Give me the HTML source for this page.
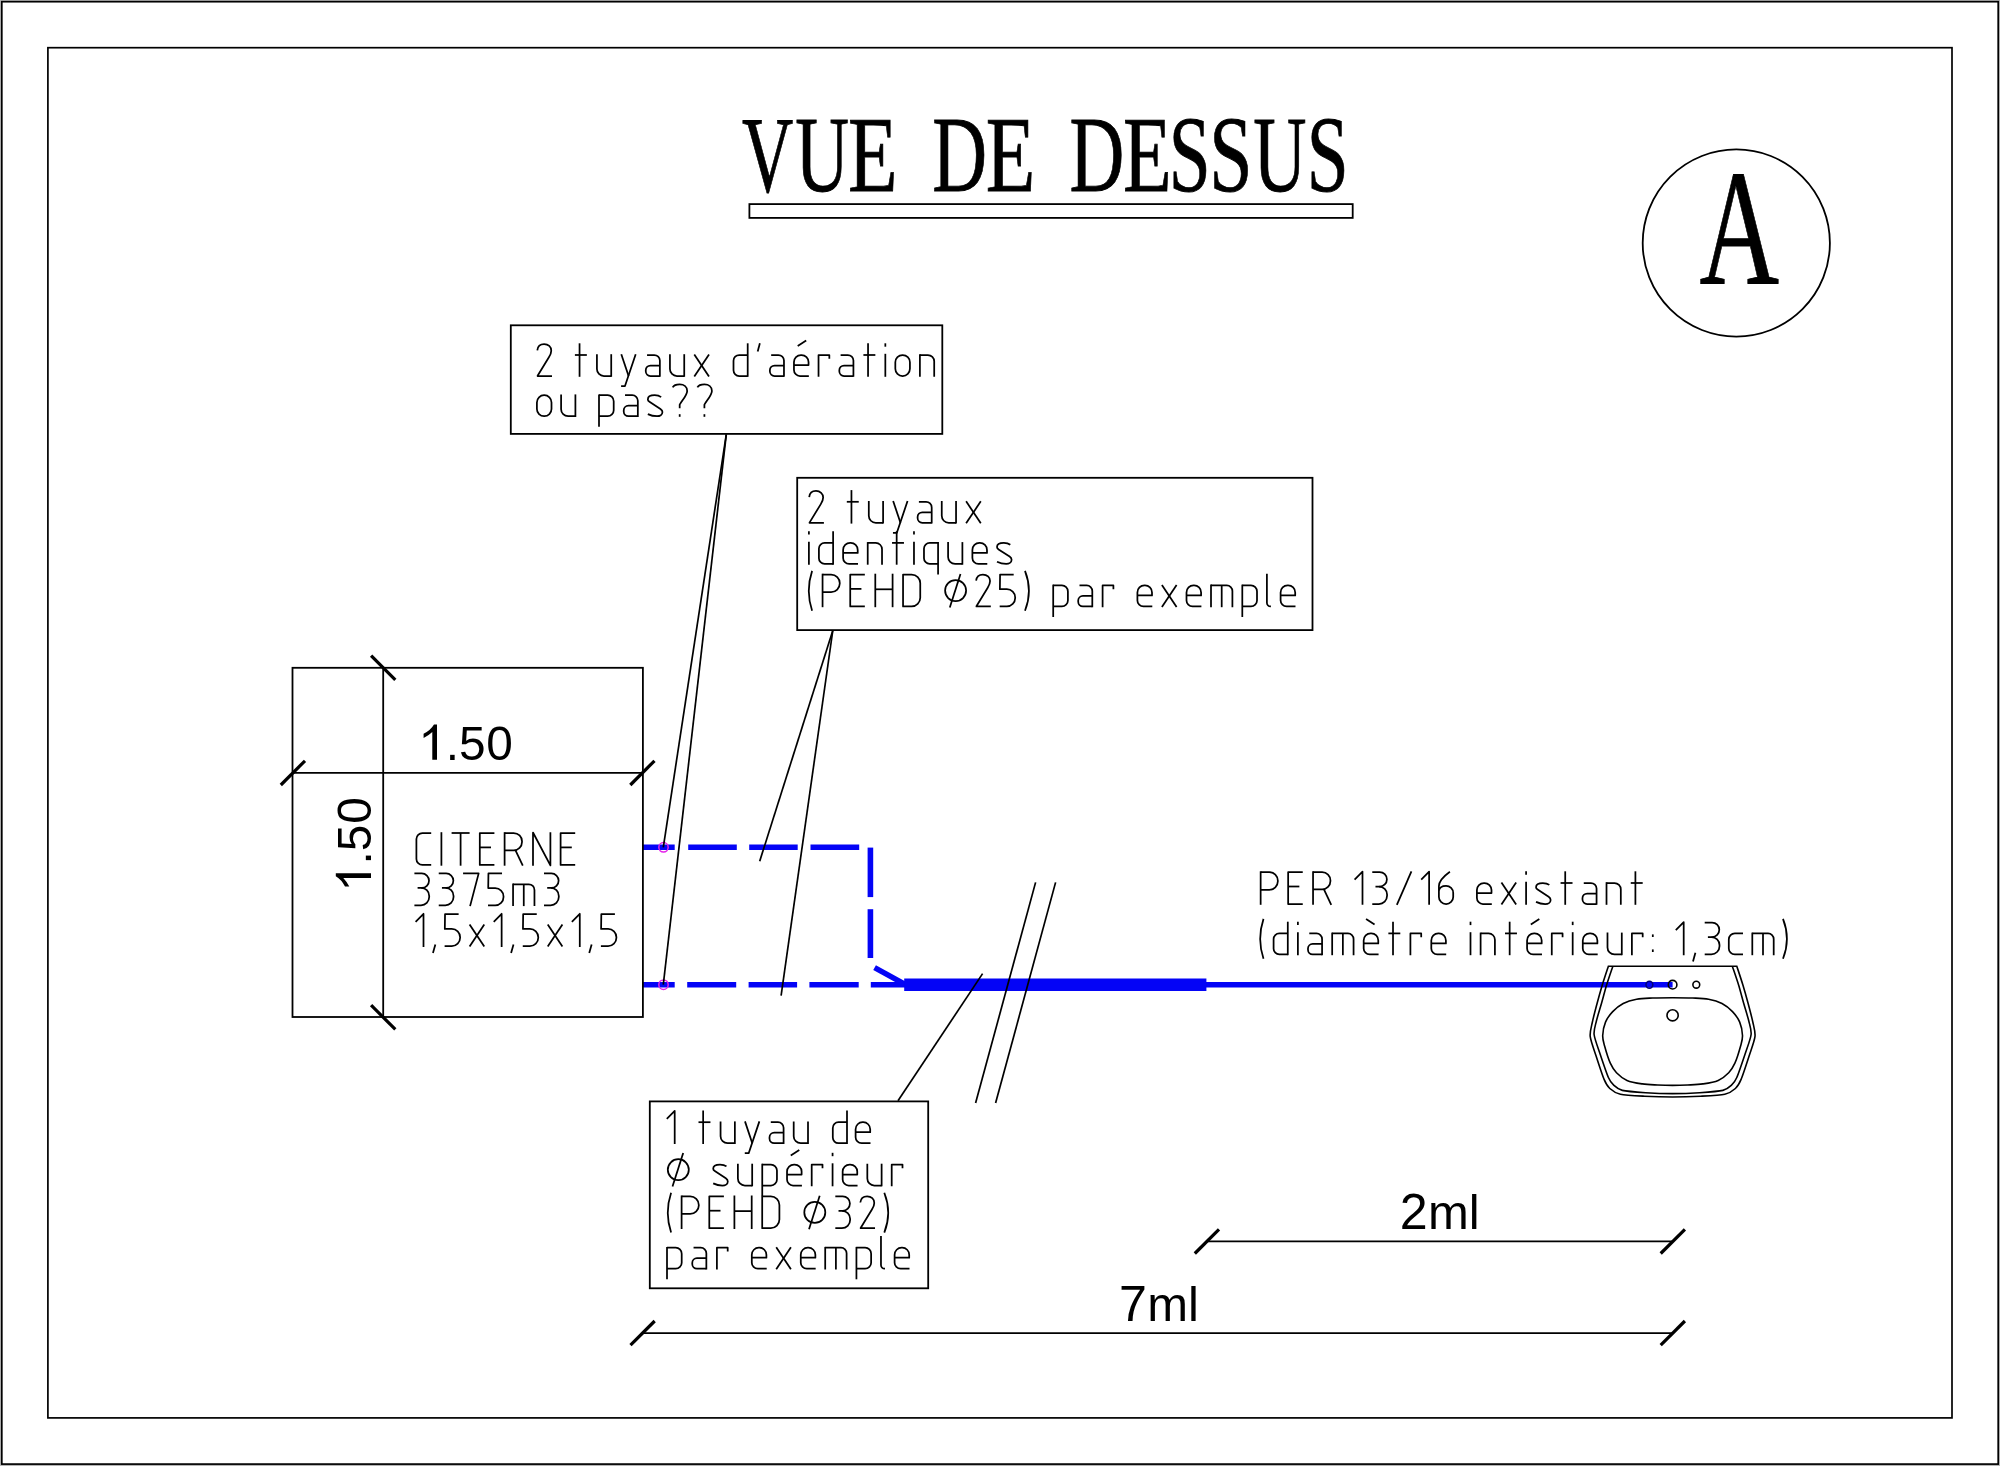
<!DOCTYPE html>
<html><head><meta charset="utf-8"><title>VUE DE DESSUS</title>
<style>
html,body{margin:0;padding:0;background:#fff;}
body{width:2000px;height:1466px;overflow:hidden;font-family:"Liberation Sans",sans-serif;}
svg{display:block;}
.thin{stroke:#000;stroke-width:1.8;fill:none;}
.ldr{stroke:#000;stroke-width:1.7;fill:none;}
.tick{stroke:#000;stroke-width:3.2;fill:none;}
.cad{stroke:#000;stroke-width:1.75;fill:none;stroke-linecap:butt;stroke-linejoin:round;}
.dim{font-family:"Liberation Sans",sans-serif;fill:#000;}
.ser{font-family:"Liberation Serif",serif;fill:#000;}
</style></head><body>
<svg width="2000" height="1466" viewBox="0 0 2000 1466">
<rect x="0" y="0" width="2000" height="1466" fill="#fff"/>

<rect x="0.5" y="0.5" width="1999" height="1465" fill="none" stroke="#b4b4b4" stroke-width="1"/>
<rect x="1.8" y="1.7" width="1996.4" height="1462.4" fill="none" stroke="#000" stroke-width="1.7"/>
<rect x="47.9" y="47.7" width="1904.1" height="1370.2" fill="none" stroke="#000" stroke-width="1.7"/>
<g class="ser">
<text transform="translate(742.10 191.3) scale(0.6547 1)" font-size="108.5" stroke="#000" stroke-width="0.8">V</text>
<text transform="translate(795.33 191.3) scale(0.6870 1)" font-size="108.5" stroke="#000" stroke-width="0.8">U</text>
<text transform="translate(848.06 191.3) scale(0.7481 1)" font-size="108.5" stroke="#000" stroke-width="0.8">E</text>
<text transform="translate(932.21 191.3) scale(0.6997 1)" font-size="108.5" stroke="#000" stroke-width="0.8">D</text>
<text transform="translate(985.66 191.3) scale(0.7481 1)" font-size="108.5" stroke="#000" stroke-width="0.8">E</text>
<text transform="translate(1069.41 191.3) scale(0.6997 1)" font-size="108.5" stroke="#000" stroke-width="0.8">D</text>
<text transform="translate(1122.90 191.3) scale(0.7342 1)" font-size="108.5" stroke="#000" stroke-width="0.8">E</text>
<text transform="translate(1168.86 191.3) scale(0.6946 1)" font-size="108.5" stroke="#000" stroke-width="0.8">S</text>
<text transform="translate(1209.20 191.3) scale(0.7162 1)" font-size="108.5" stroke="#000" stroke-width="0.8">S</text>
<text transform="translate(1253.35 191.3) scale(0.6802 1)" font-size="108.5" stroke="#000" stroke-width="0.8">U</text>
<text transform="translate(1306.86 191.3) scale(0.6946 1)" font-size="108.5" stroke="#000" stroke-width="0.8">S</text>
</g>
<rect x="749.4" y="204.1" width="603.3" height="13.8" fill="none" stroke="#000" stroke-width="1.8"/>
<circle cx="1736.3" cy="243" r="93.6" class="thin"/>
<g class="ser"><text transform="translate(1699.62 283.9) scale(0.6679 1)" font-size="165" stroke="#000" stroke-width="0.8">A</text></g>
<g stroke="#0404f6" fill="none" stroke-width="5.6">
<line x1="642.9" y1="847.3" x2="674.7" y2="847.3"/>
<line x1="688.2" y1="847.3" x2="736.8" y2="847.3"/>
<line x1="749.2" y1="847.3" x2="797.7" y2="847.3"/>
<line x1="810.5" y1="847.3" x2="859.2" y2="847.3"/>
<line x1="642.9" y1="984.7" x2="674.7" y2="984.7"/>
<line x1="687.2" y1="984.7" x2="736.2" y2="984.7"/>
<line x1="748.6" y1="984.7" x2="797.1" y2="984.7"/>
<line x1="809.4" y1="984.7" x2="858.7" y2="984.7"/>
<line x1="870.8" y1="984.7" x2="906" y2="984.7"/>
<line x1="870.4" y1="847.6" x2="870.4" y2="897.1"/>
<line x1="870.4" y1="909.2" x2="870.4" y2="958"/>
<line x1="874.6" y1="967.6" x2="906" y2="984.9"/>
<line x1="1206" y1="984.7" x2="1672.6" y2="984.7" stroke-width="5.6"/>
<line x1="904.2" y1="984.7" x2="1206.4" y2="984.7" stroke-width="12.4"/>
</g>
<rect x="510.8" y="325.3" width="431.5" height="108.6" class="thin"/>
<rect x="797.2" y="477.8" width="515.3" height="152.3" class="thin"/>
<rect x="649.8" y="1101.4" width="278.4" height="186.9" class="thin"/>
<rect x="292.5" y="667.8" width="350.4" height="349.2" class="thin"/>
<line x1="383.2" y1="667.8" x2="383.2" y2="1017" class="thin"/>
<line x1="292.5" y1="772.9" x2="642.9" y2="772.9" class="thin"/>
<line x1="371.1" y1="655.7" x2="395.3" y2="679.9" class="tick"/>
<line x1="371.1" y1="1005.2" x2="395.3" y2="1029.4" class="tick"/>
<line x1="280.8" y1="785.0" x2="305.0" y2="760.8" class="tick"/>
<line x1="630.3" y1="785.0" x2="654.5" y2="760.8" class="tick"/>
<g transform="translate(419.9 759.8)"><path d="M17.1,0 L12.4,0 L12.4,-27.7 Q8.6,-24.1 3.7,-21.7 L3.7,-26 Q10.6,-29.3 14.1,-35.2 L17.1,-35.2 Z" fill="#000"/><text class="dim" transform="translate(25.78 0) scale(1 1.022)" font-size="47.8">.5</text><text class="dim" transform="translate(66.45 0) scale(1 1.022)" font-size="47.8">0</text></g>
<g transform="translate(371.0 890.3) rotate(-90)"><path d="M17.1,0 L12.4,0 L12.4,-27.7 Q8.6,-24.1 3.7,-21.7 L3.7,-26 Q10.6,-29.3 14.1,-35.2 L17.1,-35.2 Z" fill="#000"/><text class="dim" transform="translate(25.78 0) scale(1 1.022)" font-size="47.8">.5</text><text class="dim" transform="translate(66.45 0) scale(1 1.022)" font-size="47.8">0</text></g>
<circle cx="663.5" cy="847.3" r="4.7" fill="none" stroke="#e422ea" stroke-width="1.5"/>
<circle cx="663.5" cy="984.7" r="4.7" fill="none" stroke="#e422ea" stroke-width="1.5"/>
<line x1="726.3" y1="434.3" x2="663.3" y2="847.3" class="ldr"/>
<line x1="726.3" y1="434.3" x2="663.3" y2="984.7" class="ldr"/>
<line x1="832.8" y1="630.5" x2="759.7" y2="861.2" class="ldr"/>
<line x1="832.8" y1="630.5" x2="781.1" y2="995.6" class="ldr"/>
<line x1="898" y1="1100.8" x2="982.6" y2="973.6" class="ldr"/>
<line x1="1035.6" y1="882.4" x2="975.6" y2="1103" class="ldr"/>
<line x1="1055.6" y1="882.4" x2="995.6" y2="1103" class="ldr"/>
<g class="thin" style="stroke-width:1.6">
<path d="M1608.40 966.20C1607.59 968.71 1603.79 980.09 1602.30 985.00C1600.81 989.91 1598.52 998.07 1597.20 1003.00C1595.88 1007.93 1593.33 1017.55 1592.40 1022.00C1591.47 1026.45 1589.71 1031.87 1590.20 1036.40C1590.69 1040.93 1594.25 1050.27 1596.10 1056.00C1597.95 1061.73 1602.27 1075.07 1604.10 1079.40C1605.93 1083.73 1607.63 1086.53 1609.80 1088.50C1611.97 1090.47 1615.76 1093.17 1620.40 1094.20C1625.04 1095.23 1637.64 1095.83 1644.60 1096.20C1651.56 1096.57 1665.13 1097.00 1672.60 1097.00C1680.07 1097.00 1693.64 1096.57 1700.60 1096.20C1707.56 1095.83 1720.16 1095.23 1724.80 1094.20C1729.44 1093.17 1733.23 1090.47 1735.40 1088.50C1737.57 1086.53 1739.27 1083.73 1741.10 1079.40C1742.93 1075.07 1747.25 1061.73 1749.10 1056.00C1750.95 1050.27 1754.51 1040.93 1755.00 1036.40C1755.49 1031.87 1753.73 1026.45 1752.80 1022.00C1751.87 1017.55 1749.32 1007.93 1748.00 1003.00C1746.68 998.07 1744.39 989.91 1742.90 985.00C1741.41 980.09 1737.61 968.71 1736.80 966.20Z"/>
<path d="M1612.70 966.70C1611.89 969.14 1608.08 980.16 1606.60 985.00C1605.12 989.84 1602.96 998.20 1601.60 1003.00C1600.24 1007.80 1597.40 1016.80 1596.40 1021.00C1595.40 1025.20 1593.61 1030.10 1594.10 1034.50C1594.59 1038.90 1598.19 1048.27 1600.10 1054.00C1602.01 1059.73 1606.59 1073.34 1608.40 1077.50C1610.21 1081.66 1611.85 1083.48 1613.70 1085.20C1615.55 1086.92 1618.05 1089.40 1622.30 1090.40C1626.55 1091.40 1638.89 1092.27 1645.60 1092.70C1652.31 1093.13 1665.40 1093.60 1672.60 1093.60C1679.80 1093.60 1692.89 1093.13 1699.60 1092.70C1706.31 1092.27 1718.65 1091.40 1722.90 1090.40C1727.15 1089.40 1729.65 1086.92 1731.50 1085.20C1733.35 1083.48 1734.99 1081.66 1736.80 1077.50C1738.61 1073.34 1743.19 1059.73 1745.10 1054.00C1747.01 1048.27 1750.61 1038.90 1751.10 1034.50C1751.59 1030.10 1749.80 1025.20 1748.80 1021.00C1747.80 1016.80 1744.96 1007.80 1743.60 1003.00C1742.24 998.20 1740.08 989.84 1738.60 985.00C1737.12 980.16 1733.31 969.14 1732.50 966.70"/>
<path d="M1672.60 997.70C1665.93 997.70 1658.60 997.75 1652.60 998.00C1646.60 998.25 1641.50 998.28 1636.60 999.20C1631.70 1000.12 1627.18 1001.43 1623.20 1003.50C1619.22 1005.57 1615.65 1008.50 1612.70 1011.60C1609.75 1014.70 1607.17 1018.12 1605.50 1022.10C1603.83 1026.08 1602.85 1031.52 1602.70 1035.50C1602.55 1039.48 1603.33 1041.38 1604.60 1046.00C1605.87 1050.62 1608.32 1058.75 1610.30 1063.20C1612.28 1067.65 1613.72 1069.83 1616.50 1072.70C1619.28 1075.57 1622.70 1078.53 1627.00 1080.40C1631.30 1082.27 1637.20 1083.13 1642.30 1083.90C1647.40 1084.67 1652.55 1084.75 1657.60 1085.00C1662.65 1085.25 1667.60 1085.40 1672.60 1085.40C1677.60 1085.40 1682.55 1085.25 1687.60 1085.00C1692.65 1084.75 1697.80 1084.67 1702.90 1083.90C1708.00 1083.13 1713.90 1082.27 1718.20 1080.40C1722.50 1078.53 1725.92 1075.57 1728.70 1072.70C1731.48 1069.83 1732.92 1067.65 1734.90 1063.20C1736.88 1058.75 1739.33 1050.62 1740.60 1046.00C1741.87 1041.38 1742.65 1039.48 1742.50 1035.50C1742.35 1031.52 1741.37 1026.08 1739.70 1022.10C1738.03 1018.12 1735.45 1014.70 1732.50 1011.60C1729.55 1008.50 1725.98 1005.57 1722.00 1003.50C1718.02 1001.43 1713.50 1000.12 1708.60 999.20C1703.70 998.28 1698.60 998.25 1692.60 998.00C1686.60 997.75 1679.27 997.70 1672.60 997.70Z"/>
<circle cx="1672.6" cy="1015.3" r="5.6"/>
<circle cx="1649.3999999999999" cy="984.7" r="3.4" stroke="#00007a"/>
<circle cx="1672.6" cy="984.7" r="4.3"/>
<circle cx="1696.3" cy="984.7" r="3.4"/>
</g>
<line x1="1206.6" y1="1241.4" x2="1672.6" y2="1241.4" class="thin"/>
<line x1="1194.8" y1="1253.5" x2="1219.0" y2="1229.3" class="tick"/>
<line x1="1660.7" y1="1253.5" x2="1684.9" y2="1229.3" class="tick"/>
<line x1="642.6" y1="1333.1" x2="1672.6" y2="1333.1" class="thin"/>
<line x1="630.5" y1="1345.2" x2="654.7" y2="1321.0" class="tick"/>
<line x1="1660.7" y1="1345.2" x2="1684.9" y2="1321.0" class="tick"/>
<text class="dim" transform="translate(1399.87 1229.2) scale(1.025 1.022)" font-size="49.0">2</text><text class="dim" transform="translate(1428.03 1229.2) scale(1 0.965)" font-size="49.0">ml</text>
<text class="dim" transform="translate(1119.02 1320.5) scale(1.025 1.022)" font-size="49.0">7</text><text class="dim" transform="translate(1147.18 1320.5) scale(1 0.965)" font-size="49.0">ml</text>
<g class="cad">
<path transform="translate(537.10 376.00)" d="M0.20 -25.70C0.60 -29.50 3.20 -31.90 7.00 -31.90C11.20 -31.90 14.15 -29.10 14.15 -25.30C14.15 -22.70 13.20 -20.90 11.80 -18.70L0.50 -0.20L0.50 0.00L14.90 0.00"/>
<path transform="translate(574.90 376.00)" d="M4.65 0.80L4.65 -32.70"/>
<path transform="translate(574.90 376.00)" d="M0.00 -21.00L11.95 -21.00"/>
<path transform="translate(596.92 376.00)" d="M0.00 -21.80L0.00 -7.00A7.00 7.00 0 0 0 7.00 -0.00L14.30 0.00"/>
<path transform="translate(596.92 376.00)" d="M14.30 -21.80L14.30 0.80"/>
<path transform="translate(621.29 376.00)" d="M0.00 -21.80L7.30 0.00"/>
<path transform="translate(621.29 376.00)" d="M14.40 -21.80L3.70 10.00L-0.20 10.00"/>
<path transform="translate(645.76 376.00)" d="M1.30 -21.00L8.50 -21.00A5.60 5.60 0 0 1 14.10 -15.40L14.10 0.80"/>
<path transform="translate(645.76 376.00)" d="M14.10 -10.50L4.70 -10.50A4.70 4.70 0 0 0 0.00 -5.80L0.00 -4.70A4.70 4.70 0 0 0 4.70 -0.00L14.10 0.00"/>
<path transform="translate(669.93 376.00)" d="M0.00 -21.80L0.00 -7.00A7.00 7.00 0 0 0 7.00 -0.00L14.30 0.00"/>
<path transform="translate(669.93 376.00)" d="M14.30 -21.80L14.30 0.80"/>
<path transform="translate(694.30 376.00)" d="M0.00 0.50L14.70 -21.50"/>
<path transform="translate(694.30 376.00)" d="M0.00 -21.50L14.70 0.50"/>
<path transform="translate(733.50 376.00)" d="M14.20 -21.00L5.70 -21.00A5.70 5.70 0 0 0 0.00 -15.30L0.00 -5.70A5.70 5.70 0 0 0 5.70 -0.00L14.20 0.00"/>
<path transform="translate(733.50 376.00)" d="M14.20 0.80L14.20 -32.70"/>
<path transform="translate(757.68 376.00)" d="M2.20 -32.70L0.00 -24.50"/>
<path transform="translate(769.87 376.00)" d="M1.30 -21.00L8.50 -21.00A5.60 5.60 0 0 1 14.10 -15.40L14.10 0.80"/>
<path transform="translate(769.87 376.00)" d="M14.10 -10.50L4.70 -10.50A4.70 4.70 0 0 0 0.00 -5.80L0.00 -4.70A4.70 4.70 0 0 0 4.70 -0.00L14.10 0.00"/>
<path transform="translate(793.95 376.00)" d="M14.90 0.00L6.00 -0.00A6.00 6.00 0 0 1 0.00 -6.00L0.00 -14.00A7.00 7.00 0 0 1 7.00 -21.00L7.60 -21.00A7.00 7.00 0 0 1 14.60 -14.00L14.60 -11.00L0.00 -11.00"/>
<path transform="translate(793.95 376.00)" d="M3.75 -30.00L12.25 -35.50"/>
<path transform="translate(818.53 376.00)" d="M0.00 0.80L0.00 -21.00L10.80 -21.00L10.80 -17.20"/>
<path transform="translate(839.32 376.00)" d="M1.30 -21.00L8.50 -21.00A5.60 5.60 0 0 1 14.10 -15.40L14.10 0.80"/>
<path transform="translate(839.32 376.00)" d="M14.10 -10.50L4.70 -10.50A4.70 4.70 0 0 0 0.00 -5.80L0.00 -4.70A4.70 4.70 0 0 0 4.70 -0.00L14.10 0.00"/>
<path transform="translate(863.40 376.00)" d="M4.65 0.80L4.65 -32.70"/>
<path transform="translate(863.40 376.00)" d="M0.00 -21.00L11.95 -21.00"/>
<path transform="translate(885.33 376.00)" d="M0.00 0.80L0.00 -22.20"/>
<path transform="translate(885.33 376.00)" d="M0.00 -29.30L0.00 -32.70"/>
<path transform="translate(895.32 376.00)" d="M7.20 -0.00A7.20 7.20 0 0 1 0.00 -7.20L0.00 -13.80A7.20 7.20 0 0 1 7.20 -21.00L7.40 -21.00A7.20 7.20 0 0 1 14.60 -13.80L14.60 -7.20A7.20 7.20 0 0 1 7.40 -0.00Z"/>
<path transform="translate(919.90 376.00)" d="M0.00 0.80L0.00 -21.80"/>
<path transform="translate(919.90 376.00)" d="M0.00 -21.00L8.00 -21.00A6.30 6.30 0 0 1 14.30 -14.70L14.30 0.80"/>
<path transform="translate(536.90 416.20)" d="M7.20 -0.00A7.20 7.20 0 0 1 0.00 -7.20L0.00 -13.80A7.20 7.20 0 0 1 7.20 -21.00L7.40 -21.00A7.20 7.20 0 0 1 14.60 -13.80L14.60 -7.20A7.20 7.20 0 0 1 7.40 -0.00Z"/>
<path transform="translate(561.10 416.20)" d="M0.00 -21.80L0.00 -7.00A7.00 7.00 0 0 0 7.00 -0.00L14.30 0.00"/>
<path transform="translate(561.10 416.20)" d="M14.30 -21.80L14.30 0.80"/>
<path transform="translate(599.00 416.20)" d="M0.00 10.60L0.00 -21.80"/>
<path transform="translate(599.00 416.20)" d="M0.00 -21.00L8.70 -21.00A6.00 6.00 0 0 1 14.70 -15.00L14.70 -6.00A6.00 6.00 0 0 1 8.70 -0.00L0.00 0.00"/>
<path transform="translate(623.73 416.20)" d="M1.30 -21.00L8.50 -21.00A5.60 5.60 0 0 1 14.10 -15.40L14.10 0.80"/>
<path transform="translate(623.73 416.20)" d="M14.10 -10.50L4.70 -10.50A4.70 4.70 0 0 0 0.00 -5.80L0.00 -4.70A4.70 4.70 0 0 0 4.70 -0.00L14.10 0.00"/>
<path transform="translate(647.85 416.20)" d="M13.30 -19.10C11.50 -20.50 9.50 -21.00 6.80 -21.00C3.00 -21.00 0.00 -19.50 0.00 -16.80C0.00 -15.60 0.60 -15.10 1.60 -14.50L12.60 -7.30C13.80 -6.50 14.60 -5.60 14.60 -4.10C14.60 -1.40 12.00 0.00 9.20 0.00C5.50 0.00 2.50 -0.90 0.00 -2.10"/>
<path transform="translate(672.48 416.20)" d="M0.20 -28.90C1.20 -30.90 3.60 -31.90 7.20 -31.90C11.60 -31.90 14.70 -29.30 14.70 -25.30C14.70 -21.40 10.50 -16.90 7.20 -11.60L7.20 -8.00"/>
<path transform="translate(672.48 416.20)" d="M7.20 0.60L7.20 -2.00"/>
<path transform="translate(697.20 416.20)" d="M0.20 -28.90C1.20 -30.90 3.60 -31.90 7.20 -31.90C11.60 -31.90 14.70 -29.30 14.70 -25.30C14.70 -21.40 10.50 -16.90 7.20 -11.60L7.20 -8.00"/>
<path transform="translate(697.20 416.20)" d="M7.20 0.60L7.20 -2.00"/>
<path transform="translate(809.00 522.80)" d="M0.20 -25.70C0.60 -29.50 3.20 -31.90 7.00 -31.90C11.20 -31.90 14.15 -29.10 14.15 -25.30C14.15 -22.70 13.20 -20.90 11.80 -18.70L0.50 -0.20L0.50 0.00L14.90 0.00"/>
<path transform="translate(846.80 522.80)" d="M4.65 0.80L4.65 -32.70"/>
<path transform="translate(846.80 522.80)" d="M0.00 -21.00L11.95 -21.00"/>
<path transform="translate(868.80 522.80)" d="M0.00 -21.80L0.00 -7.00A7.00 7.00 0 0 0 7.00 -0.00L14.30 0.00"/>
<path transform="translate(868.80 522.80)" d="M14.30 -21.80L14.30 0.80"/>
<path transform="translate(893.15 522.80)" d="M0.00 -21.80L7.30 0.00"/>
<path transform="translate(893.15 522.80)" d="M14.40 -21.80L3.70 10.00L-0.20 10.00"/>
<path transform="translate(917.60 522.80)" d="M1.30 -21.00L8.50 -21.00A5.60 5.60 0 0 1 14.10 -15.40L14.10 0.80"/>
<path transform="translate(917.60 522.80)" d="M14.10 -10.50L4.70 -10.50A4.70 4.70 0 0 0 0.00 -5.80L0.00 -4.70A4.70 4.70 0 0 0 4.70 -0.00L14.10 0.00"/>
<path transform="translate(941.75 522.80)" d="M0.00 -21.80L0.00 -7.00A7.00 7.00 0 0 0 7.00 -0.00L14.30 0.00"/>
<path transform="translate(941.75 522.80)" d="M14.30 -21.80L14.30 0.80"/>
<path transform="translate(966.10 522.80)" d="M0.00 0.50L14.70 -21.50"/>
<path transform="translate(966.10 522.80)" d="M0.00 -21.50L14.70 0.50"/>
<path transform="translate(808.90 563.90)" d="M0.00 0.80L0.00 -22.20"/>
<path transform="translate(808.90 563.90)" d="M0.00 -29.30L0.00 -32.70"/>
<path transform="translate(818.91 563.90)" d="M14.20 -21.00L5.70 -21.00A5.70 5.70 0 0 0 0.00 -15.30L0.00 -5.70A5.70 5.70 0 0 0 5.70 -0.00L14.20 0.00"/>
<path transform="translate(818.91 563.90)" d="M14.20 0.80L14.20 -32.70"/>
<path transform="translate(843.11 563.90)" d="M14.90 0.00L6.00 -0.00A6.00 6.00 0 0 1 0.00 -6.00L0.00 -14.00A7.00 7.00 0 0 1 7.00 -21.00L7.60 -21.00A7.00 7.00 0 0 1 14.60 -14.00L14.60 -11.00L0.00 -11.00"/>
<path transform="translate(867.72 563.90)" d="M0.00 0.80L0.00 -21.80"/>
<path transform="translate(867.72 563.90)" d="M0.00 -21.00L8.00 -21.00A6.30 6.30 0 0 1 14.30 -14.70L14.30 0.80"/>
<path transform="translate(892.02 563.90)" d="M4.65 0.80L4.65 -32.70"/>
<path transform="translate(892.02 563.90)" d="M0.00 -21.00L11.95 -21.00"/>
<path transform="translate(913.98 563.90)" d="M0.00 0.80L0.00 -22.20"/>
<path transform="translate(913.98 563.90)" d="M0.00 -29.30L0.00 -32.70"/>
<path transform="translate(923.98 563.90)" d="M14.10 10.60L14.10 -21.80"/>
<path transform="translate(923.98 563.90)" d="M14.10 -21.00L5.70 -21.00A5.70 5.70 0 0 0 0.00 -15.30L0.00 -5.70A5.70 5.70 0 0 0 5.70 -0.00L14.10 0.00"/>
<path transform="translate(948.09 563.90)" d="M0.00 -21.80L0.00 -7.00A7.00 7.00 0 0 0 7.00 -0.00L14.30 0.00"/>
<path transform="translate(948.09 563.90)" d="M14.30 -21.80L14.30 0.80"/>
<path transform="translate(972.39 563.90)" d="M14.90 0.00L6.00 -0.00A6.00 6.00 0 0 1 0.00 -6.00L0.00 -14.00A7.00 7.00 0 0 1 7.00 -21.00L7.60 -21.00A7.00 7.00 0 0 1 14.60 -14.00L14.60 -11.00L0.00 -11.00"/>
<path transform="translate(997.00 563.90)" d="M13.30 -19.10C11.50 -20.50 9.50 -21.00 6.80 -21.00C3.00 -21.00 0.00 -19.50 0.00 -16.80C0.00 -15.60 0.60 -15.10 1.60 -14.50L12.60 -7.30C13.80 -6.50 14.60 -5.60 14.60 -4.10C14.60 -1.40 12.00 0.00 9.20 0.00C5.50 0.00 2.50 -0.90 0.00 -2.10"/>
<path transform="translate(808.80 606.40)" d="M3.30 -35.50Q-3.30 -15.65 3.30 4.40"/>
<path transform="translate(822.56 606.40)" d="M0.00 0.80L0.00 -32.70"/>
<path transform="translate(822.56 606.40)" d="M0.00 -31.90L8.60 -31.90A8.60 8.60 0 0 1 17.20 -23.30L17.20 -22.80A8.60 8.60 0 0 1 8.60 -14.20L0.00 -14.20"/>
<path transform="translate(850.23 606.40)" d="M14.60 -31.90L0.00 -31.90L0.00 0.00L14.60 0.00"/>
<path transform="translate(850.23 606.40)" d="M0.00 -17.50L11.20 -17.50"/>
<path transform="translate(875.29 606.40)" d="M0.00 0.80L0.00 -32.70"/>
<path transform="translate(875.29 606.40)" d="M17.30 0.80L17.30 -32.70"/>
<path transform="translate(875.29 606.40)" d="M0.00 -17.10L17.30 -17.10"/>
<path transform="translate(903.05 606.40)" d="M0.00 0.00L0.00 -31.90L8.60 -31.90A8.60 8.60 0 0 1 17.20 -23.30L17.20 -8.60A8.60 8.60 0 0 1 8.60 -0.00Z"/>
<path transform="translate(945.10 606.40)" d="M0 -15.80a10.5 10.5 0 1 0 21 0a10.5 10.5 0 1 0 -21 0Z"/>
<path transform="translate(945.10 606.40)" d="M4.70 1.00L15.40 -32.50"/>
<path transform="translate(975.92 606.40)" d="M0.20 -25.70C0.60 -29.50 3.20 -31.90 7.00 -31.90C11.20 -31.90 14.15 -29.10 14.15 -25.30C14.15 -22.70 13.20 -20.90 11.80 -18.70L0.50 -0.20L0.50 0.00L14.90 0.00"/>
<path transform="translate(999.88 606.40)" d="M13.80 -31.90L0.20 -31.90L0.00 -17.20L7.00 -17.20A8.30 8.30 0 0 1 15.30 -8.90L15.30 -8.30A8.30 8.30 0 0 1 7.00 -0.00L-0.20 0.00"/>
<path transform="translate(1025.00 606.40)" d="M0.00 -35.50Q7.80 -15.65 0.00 4.40"/>
<path transform="translate(1053.20 606.40)" d="M0.00 10.60L0.00 -21.80"/>
<path transform="translate(1053.20 606.40)" d="M0.00 -21.00L8.70 -21.00A6.00 6.00 0 0 1 14.70 -15.00L14.70 -6.00A6.00 6.00 0 0 1 8.70 -0.00L0.00 0.00"/>
<path transform="translate(1078.20 606.40)" d="M1.30 -21.00L8.50 -21.00A5.60 5.60 0 0 1 14.10 -15.40L14.10 0.80"/>
<path transform="translate(1078.20 606.40)" d="M14.10 -10.50L4.70 -10.50A4.70 4.70 0 0 0 0.00 -5.80L0.00 -4.70A4.70 4.70 0 0 0 4.70 -0.00L14.10 0.00"/>
<path transform="translate(1102.60 606.40)" d="M0.00 0.80L0.00 -21.00L10.80 -21.00L10.80 -17.20"/>
<path transform="translate(1137.40 606.40)" d="M14.90 0.00L6.00 -0.00A6.00 6.00 0 0 1 0.00 -6.00L0.00 -14.00A7.00 7.00 0 0 1 7.00 -21.00L7.60 -21.00A7.00 7.00 0 0 1 14.60 -14.00L14.60 -11.00L0.00 -11.00"/>
<path transform="translate(1161.90 606.40)" d="M0.00 0.50L14.70 -21.50"/>
<path transform="translate(1161.90 606.40)" d="M0.00 -21.50L14.70 0.50"/>
<path transform="translate(1186.50 606.40)" d="M14.90 0.00L6.00 -0.00A6.00 6.00 0 0 1 0.00 -6.00L0.00 -14.00A7.00 7.00 0 0 1 7.00 -21.00L7.60 -21.00A7.00 7.00 0 0 1 14.60 -14.00L14.60 -11.00L0.00 -11.00"/>
<path transform="translate(1211.00 606.40)" d="M0.00 0.80L0.00 -21.80"/>
<path transform="translate(1211.00 606.40)" d="M0.00 -21.00L15.80 -21.00A5.60 5.60 0 0 1 21.40 -15.40L21.40 0.80"/>
<path transform="translate(1211.00 606.40)" d="M10.70 -21.00L10.70 0.80"/>
<path transform="translate(1242.30 606.40)" d="M0.00 10.60L0.00 -21.80"/>
<path transform="translate(1242.30 606.40)" d="M0.00 -21.00L8.70 -21.00A6.00 6.00 0 0 1 14.70 -15.00L14.70 -6.00A6.00 6.00 0 0 1 8.70 -0.00L0.00 0.00"/>
<path transform="translate(1266.90 606.40)" d="M0.00 -32.70L0.00 -3.70A3.70 3.70 0 0 0 3.70 -0.00L4.00 0.00"/>
<path transform="translate(1280.60 606.40)" d="M14.90 0.00L6.00 -0.00A6.00 6.00 0 0 1 0.00 -6.00L0.00 -14.00A7.00 7.00 0 0 1 7.00 -21.00L7.60 -21.00A7.00 7.00 0 0 1 14.60 -14.00L14.60 -11.00L0.00 -11.00"/>
<path transform="translate(416.40 864.90)" d="M14.80 -31.90L6.00 -31.90A6.00 6.00 0 0 0 0.00 -25.90L0.00 -6.00A6.00 6.00 0 0 0 6.00 -0.00L14.80 0.00"/>
<path transform="translate(441.40 864.90)" d="M0.00 0.80L0.00 -32.70"/>
<path transform="translate(451.60 864.90)" d="M0.00 -31.90L18.00 -31.90"/>
<path transform="translate(451.60 864.90)" d="M9.00 0.80L9.00 -31.90"/>
<path transform="translate(479.80 864.90)" d="M14.60 -31.90L0.00 -31.90L0.00 0.00L14.60 0.00"/>
<path transform="translate(479.80 864.90)" d="M0.00 -17.50L11.20 -17.50"/>
<path transform="translate(504.60 864.90)" d="M0.00 0.80L0.00 -32.70"/>
<path transform="translate(504.60 864.90)" d="M0.00 -31.90L9.10 -31.90A8.30 8.30 0 0 1 17.40 -23.60L17.40 -22.90A8.30 8.30 0 0 1 9.10 -14.60L0.00 -14.60"/>
<path transform="translate(504.60 864.90)" d="M10.90 -14.60L18.20 0.80"/>
<path transform="translate(533.00 864.90)" d="M0.00 0.80L0.00 -32.40L17.40 0.50L17.40 -32.70"/>
<path transform="translate(560.60 864.90)" d="M14.60 -31.90L0.00 -31.90L0.00 0.00L14.60 0.00"/>
<path transform="translate(560.60 864.90)" d="M0.00 -17.50L11.20 -17.50"/>
<path transform="translate(414.40 905.30)" d="M0.00 -31.90L7.40 -31.90A7.20 7.20 0 0 1 14.60 -24.70L14.60 -24.60A7.20 7.20 0 0 1 7.40 -17.40L3.20 -17.40"/>
<path transform="translate(414.40 905.30)" d="M6.80 -17.40L6.80 -17.40A8.00 8.00 0 0 1 14.80 -9.40L14.80 -8.20A8.20 8.20 0 0 1 6.60 -0.00L0.00 0.00"/>
<path transform="translate(438.74 905.30)" d="M0.00 -31.90L7.40 -31.90A7.20 7.20 0 0 1 14.60 -24.70L14.60 -24.60A7.20 7.20 0 0 1 7.40 -17.40L3.20 -17.40"/>
<path transform="translate(438.74 905.30)" d="M6.80 -17.40L6.80 -17.40A8.00 8.00 0 0 1 14.80 -9.40L14.80 -8.20A8.20 8.20 0 0 1 6.60 -0.00L0.00 0.00"/>
<path transform="translate(463.08 905.30)" d="M0.00 -31.90L15.60 -31.90L7.00 0.80"/>
<path transform="translate(488.22 905.30)" d="M13.80 -31.90L0.20 -31.90L0.00 -17.20L7.00 -17.20A8.30 8.30 0 0 1 15.30 -8.90L15.30 -8.30A8.30 8.30 0 0 1 7.00 -0.00L-0.20 0.00"/>
<path transform="translate(513.06 905.30)" d="M0.00 0.80L0.00 -21.80"/>
<path transform="translate(513.06 905.30)" d="M0.00 -21.00L15.80 -21.00A5.60 5.60 0 0 1 21.40 -15.40L21.40 0.80"/>
<path transform="translate(513.06 905.30)" d="M10.70 -21.00L10.70 0.80"/>
<path transform="translate(544.00 905.30)" d="M0.00 -31.90L7.40 -31.90A7.20 7.20 0 0 1 14.60 -24.70L14.60 -24.60A7.20 7.20 0 0 1 7.40 -17.40L3.20 -17.40"/>
<path transform="translate(544.00 905.30)" d="M6.80 -17.40L6.80 -17.40A8.00 8.00 0 0 1 14.80 -9.40L14.80 -8.20A8.20 8.20 0 0 1 6.60 -0.00L0.00 0.00"/>
<path transform="translate(415.60 946.10)" d="M0.00 -24.30L7.90 -32.30L7.90 0.80"/>
<path transform="translate(432.96 946.10)" d="M2.40 -1.60L0.00 7.00"/>
<path transform="translate(444.82 946.10)" d="M13.80 -31.90L0.20 -31.90L0.00 -17.20L7.00 -17.20A8.30 8.30 0 0 1 15.30 -8.90L15.30 -8.30A8.30 8.30 0 0 1 7.00 -0.00L-0.20 0.00"/>
<path transform="translate(469.58 946.10)" d="M0.00 0.50L14.70 -21.50"/>
<path transform="translate(469.58 946.10)" d="M0.00 -21.50L14.70 0.50"/>
<path transform="translate(493.74 946.10)" d="M0.00 -24.30L7.90 -32.30L7.90 0.80"/>
<path transform="translate(511.10 946.10)" d="M2.40 -1.60L0.00 7.00"/>
<path transform="translate(522.96 946.10)" d="M13.80 -31.90L0.20 -31.90L0.00 -17.20L7.00 -17.20A8.30 8.30 0 0 1 15.30 -8.90L15.30 -8.30A8.30 8.30 0 0 1 7.00 -0.00L-0.20 0.00"/>
<path transform="translate(547.72 946.10)" d="M0.00 0.50L14.70 -21.50"/>
<path transform="translate(547.72 946.10)" d="M0.00 -21.50L14.70 0.50"/>
<path transform="translate(571.88 946.10)" d="M0.00 -24.30L7.90 -32.30L7.90 0.80"/>
<path transform="translate(589.24 946.10)" d="M2.40 -1.60L0.00 7.00"/>
<path transform="translate(601.10 946.10)" d="M13.80 -31.90L0.20 -31.90L0.00 -17.20L7.00 -17.20A8.30 8.30 0 0 1 15.30 -8.90L15.30 -8.30A8.30 8.30 0 0 1 7.00 -0.00L-0.20 0.00"/>
<path transform="translate(1260.65 904.00)" d="M0.00 0.80L0.00 -32.70"/>
<path transform="translate(1260.65 904.00)" d="M0.00 -31.90L8.60 -31.90A8.60 8.60 0 0 1 17.20 -23.30L17.20 -22.80A8.60 8.60 0 0 1 8.60 -14.20L0.00 -14.20"/>
<path transform="translate(1288.15 904.00)" d="M14.60 -31.90L0.00 -31.90L0.00 0.00L14.60 0.00"/>
<path transform="translate(1288.15 904.00)" d="M0.00 -17.50L11.20 -17.50"/>
<path transform="translate(1313.05 904.00)" d="M0.00 0.80L0.00 -32.70"/>
<path transform="translate(1313.05 904.00)" d="M0.00 -31.90L9.10 -31.90A8.30 8.30 0 0 1 17.40 -23.60L17.40 -22.90A8.30 8.30 0 0 1 9.10 -14.60L0.00 -14.60"/>
<path transform="translate(1313.05 904.00)" d="M10.90 -14.60L18.20 0.80"/>
<path transform="translate(1354.60 904.00)" d="M0.00 -24.30L7.90 -32.30L7.90 0.80"/>
<path transform="translate(1372.27 904.00)" d="M0.00 -31.90L7.40 -31.90A7.20 7.20 0 0 1 14.60 -24.70L14.60 -24.60A7.20 7.20 0 0 1 7.40 -17.40L3.20 -17.40"/>
<path transform="translate(1372.27 904.00)" d="M6.80 -17.40L6.80 -17.40A8.00 8.00 0 0 1 14.80 -9.40L14.80 -8.20A8.20 8.20 0 0 1 6.60 -0.00L0.00 0.00"/>
<path transform="translate(1396.85 904.00)" d="M0.00 0.80L14.60 -32.70"/>
<path transform="translate(1421.22 904.00)" d="M0.00 -24.30L7.90 -32.30L7.90 0.80"/>
<path transform="translate(1438.90 904.00)" d="M11.00 -32.30C6.30 -28.90 0.00 -23.90 0.00 -17.90L0.00 -7.10C0.00 -3.20 3.20 0.00 7.15 0.00C11.10 0.00 14.30 -3.20 14.30 -7.10L14.30 -11.00C14.30 -14.90 11.10 -18.10 7.15 -18.10C3.40 -18.10 0.60 -16.40 0.00 -13.20"/>
<path transform="translate(1476.90 904.00)" d="M14.90 0.00L6.00 -0.00A6.00 6.00 0 0 1 0.00 -6.00L0.00 -14.00A7.00 7.00 0 0 1 7.00 -21.00L7.60 -21.00A7.00 7.00 0 0 1 14.60 -14.00L14.60 -11.00L0.00 -11.00"/>
<path transform="translate(1501.44 904.00)" d="M0.00 0.50L14.70 -21.50"/>
<path transform="translate(1501.44 904.00)" d="M0.00 -21.50L14.70 0.50"/>
<path transform="translate(1526.09 904.00)" d="M0.00 0.80L0.00 -22.20"/>
<path transform="translate(1526.09 904.00)" d="M0.00 -29.30L0.00 -32.70"/>
<path transform="translate(1536.03 904.00)" d="M13.30 -19.10C11.50 -20.50 9.50 -21.00 6.80 -21.00C3.00 -21.00 0.00 -19.50 0.00 -16.80C0.00 -15.60 0.60 -15.10 1.60 -14.50L12.60 -7.30C13.80 -6.50 14.60 -5.60 14.60 -4.10C14.60 -1.40 12.00 0.00 9.20 0.00C5.50 0.00 2.50 -0.90 0.00 -2.10"/>
<path transform="translate(1560.57 904.00)" d="M4.65 0.80L4.65 -32.70"/>
<path transform="translate(1560.57 904.00)" d="M0.00 -21.00L11.95 -21.00"/>
<path transform="translate(1582.46 904.00)" d="M1.30 -21.00L8.50 -21.00A5.60 5.60 0 0 1 14.10 -15.40L14.10 0.80"/>
<path transform="translate(1582.46 904.00)" d="M14.10 -10.50L4.70 -10.50A4.70 4.70 0 0 0 0.00 -5.80L0.00 -4.70A4.70 4.70 0 0 0 4.70 -0.00L14.10 0.00"/>
<path transform="translate(1606.51 904.00)" d="M0.00 0.80L0.00 -21.80"/>
<path transform="translate(1606.51 904.00)" d="M0.00 -21.00L8.00 -21.00A6.30 6.30 0 0 1 14.30 -14.70L14.30 0.80"/>
<path transform="translate(1630.75 904.00)" d="M4.65 0.80L4.65 -32.70"/>
<path transform="translate(1630.75 904.00)" d="M0.00 -21.00L11.95 -21.00"/>
<path transform="translate(1260.20 954.40)" d="M3.30 -35.50Q-3.30 -15.65 3.30 4.40"/>
<path transform="translate(1273.59 954.40)" d="M14.20 -21.00L5.70 -21.00A5.70 5.70 0 0 0 0.00 -15.30L0.00 -5.70A5.70 5.70 0 0 0 5.70 -0.00L14.20 0.00"/>
<path transform="translate(1273.59 954.40)" d="M14.20 0.80L14.20 -32.70"/>
<path transform="translate(1297.89 954.40)" d="M0.00 0.80L0.00 -22.20"/>
<path transform="translate(1297.89 954.40)" d="M0.00 -29.30L0.00 -32.70"/>
<path transform="translate(1307.98 954.40)" d="M1.30 -21.00L8.50 -21.00A5.60 5.60 0 0 1 14.10 -15.40L14.10 0.80"/>
<path transform="translate(1307.98 954.40)" d="M14.10 -10.50L4.70 -10.50A4.70 4.70 0 0 0 0.00 -5.80L0.00 -4.70A4.70 4.70 0 0 0 4.70 -0.00L14.10 0.00"/>
<path transform="translate(1332.17 954.40)" d="M0.00 0.80L0.00 -21.80"/>
<path transform="translate(1332.17 954.40)" d="M0.00 -21.00L15.80 -21.00A5.60 5.60 0 0 1 21.40 -15.40L21.40 0.80"/>
<path transform="translate(1332.17 954.40)" d="M10.70 -21.00L10.70 0.80"/>
<path transform="translate(1363.67 954.40)" d="M14.90 0.00L6.00 -0.00A6.00 6.00 0 0 1 0.00 -6.00L0.00 -14.00A7.00 7.00 0 0 1 7.00 -21.00L7.60 -21.00A7.00 7.00 0 0 1 14.60 -14.00L14.60 -11.00L0.00 -11.00"/>
<path transform="translate(1363.67 954.40)" d="M2.40 -35.50L10.90 -30.00"/>
<path transform="translate(1388.36 954.40)" d="M4.65 0.80L4.65 -32.70"/>
<path transform="translate(1388.36 954.40)" d="M0.00 -21.00L11.95 -21.00"/>
<path transform="translate(1410.41 954.40)" d="M0.00 0.80L0.00 -21.00L10.80 -21.00L10.80 -17.20"/>
<path transform="translate(1431.30 954.40)" d="M14.90 0.00L6.00 -0.00A6.00 6.00 0 0 1 0.00 -6.00L0.00 -14.00A7.00 7.00 0 0 1 7.00 -21.00L7.60 -21.00A7.00 7.00 0 0 1 14.60 -14.00L14.60 -11.00L0.00 -11.00"/>
<path transform="translate(1470.50 954.40)" d="M0.00 0.80L0.00 -22.20"/>
<path transform="translate(1470.50 954.40)" d="M0.00 -29.30L0.00 -32.70"/>
<path transform="translate(1480.61 954.40)" d="M0.00 0.80L0.00 -21.80"/>
<path transform="translate(1480.61 954.40)" d="M0.00 -21.00L8.00 -21.00A6.30 6.30 0 0 1 14.30 -14.70L14.30 0.80"/>
<path transform="translate(1505.01 954.40)" d="M4.65 0.80L4.65 -32.70"/>
<path transform="translate(1505.01 954.40)" d="M0.00 -21.00L11.95 -21.00"/>
<path transform="translate(1527.07 954.40)" d="M14.90 0.00L6.00 -0.00A6.00 6.00 0 0 1 0.00 -6.00L0.00 -14.00A7.00 7.00 0 0 1 7.00 -21.00L7.60 -21.00A7.00 7.00 0 0 1 14.60 -14.00L14.60 -11.00L0.00 -11.00"/>
<path transform="translate(1527.07 954.40)" d="M3.75 -30.00L12.25 -35.50"/>
<path transform="translate(1551.77 954.40)" d="M0.00 0.80L0.00 -21.00L10.80 -21.00L10.80 -17.20"/>
<path transform="translate(1572.68 954.40)" d="M0.00 0.80L0.00 -22.20"/>
<path transform="translate(1572.68 954.40)" d="M0.00 -29.30L0.00 -32.70"/>
<path transform="translate(1582.78 954.40)" d="M14.90 0.00L6.00 -0.00A6.00 6.00 0 0 1 0.00 -6.00L0.00 -14.00A7.00 7.00 0 0 1 7.00 -21.00L7.60 -21.00A7.00 7.00 0 0 1 14.60 -14.00L14.60 -11.00L0.00 -11.00"/>
<path transform="translate(1607.49 954.40)" d="M0.00 -21.80L0.00 -7.00A7.00 7.00 0 0 0 7.00 -0.00L14.30 0.00"/>
<path transform="translate(1607.49 954.40)" d="M14.30 -21.80L14.30 0.80"/>
<path transform="translate(1631.89 954.40)" d="M0.00 0.80L0.00 -21.00L10.80 -21.00L10.80 -17.20"/>
<path transform="translate(1652.80 954.40)" d="M0.00 -2.40L0.00 -5.00"/>
<path transform="translate(1652.80 954.40)" d="M0.00 -17.40L0.00 -20.00"/>
<path transform="translate(1675.80 954.40)" d="M0.00 -24.30L7.90 -32.30L7.90 0.80"/>
<path transform="translate(1693.00 954.40)" d="M2.40 -1.60L0.00 7.00"/>
<path transform="translate(1704.70 954.40)" d="M0.00 -31.90L7.40 -31.90A7.20 7.20 0 0 1 14.60 -24.70L14.60 -24.60A7.20 7.20 0 0 1 7.40 -17.40L3.20 -17.40"/>
<path transform="translate(1704.70 954.40)" d="M6.80 -17.40L6.80 -17.40A8.00 8.00 0 0 1 14.80 -9.40L14.80 -8.20A8.20 8.20 0 0 1 6.60 -0.00L0.00 0.00"/>
<path transform="translate(1728.80 954.40)" d="M14.20 -21.00L6.00 -21.00A6.00 6.00 0 0 0 0.00 -15.00L0.00 -6.00A6.00 6.00 0 0 0 6.00 -0.00L14.20 0.00"/>
<path transform="translate(1752.30 954.40)" d="M0.00 0.80L0.00 -21.80"/>
<path transform="translate(1752.30 954.40)" d="M0.00 -21.00L15.80 -21.00A5.60 5.60 0 0 1 21.40 -15.40L21.40 0.80"/>
<path transform="translate(1752.30 954.40)" d="M10.70 -21.00L10.70 0.80"/>
<path transform="translate(1783.00 954.40)" d="M0.00 -35.50Q7.80 -15.65 0.00 4.40"/>
<path transform="translate(666.80 1143.20)" d="M0.00 -24.30L7.90 -32.30L7.90 0.80"/>
<path transform="translate(698.50 1143.20)" d="M4.65 0.80L4.65 -32.70"/>
<path transform="translate(698.50 1143.20)" d="M0.00 -21.00L11.95 -21.00"/>
<path transform="translate(720.56 1143.20)" d="M0.00 -21.80L0.00 -7.00A7.00 7.00 0 0 0 7.00 -0.00L14.30 0.00"/>
<path transform="translate(720.56 1143.20)" d="M14.30 -21.80L14.30 0.80"/>
<path transform="translate(744.98 1143.20)" d="M0.00 -21.80L7.30 0.00"/>
<path transform="translate(744.98 1143.20)" d="M14.40 -21.80L3.70 10.00L-0.20 10.00"/>
<path transform="translate(769.49 1143.20)" d="M1.30 -21.00L8.50 -21.00A5.60 5.60 0 0 1 14.10 -15.40L14.10 0.80"/>
<path transform="translate(769.49 1143.20)" d="M14.10 -10.50L4.70 -10.50A4.70 4.70 0 0 0 0.00 -5.80L0.00 -4.70A4.70 4.70 0 0 0 4.70 -0.00L14.10 0.00"/>
<path transform="translate(793.70 1143.20)" d="M0.00 -21.80L0.00 -7.00A7.00 7.00 0 0 0 7.00 -0.00L14.30 0.00"/>
<path transform="translate(793.70 1143.20)" d="M14.30 -21.80L14.30 0.80"/>
<path transform="translate(832.80 1143.20)" d="M14.20 -21.00L5.70 -21.00A5.70 5.70 0 0 0 0.00 -15.30L0.00 -5.70A5.70 5.70 0 0 0 5.70 -0.00L14.20 0.00"/>
<path transform="translate(832.80 1143.20)" d="M14.20 0.80L14.20 -32.70"/>
<path transform="translate(855.60 1143.20)" d="M14.90 0.00L6.00 -0.00A6.00 6.00 0 0 1 0.00 -6.00L0.00 -14.00A7.00 7.00 0 0 1 7.00 -21.00L7.60 -21.00A7.00 7.00 0 0 1 14.60 -14.00L14.60 -11.00L0.00 -11.00"/>
<path transform="translate(667.80 1185.50)" d="M0 -15.80a10.5 10.5 0 1 0 21 0a10.5 10.5 0 1 0 -21 0Z"/>
<path transform="translate(667.80 1185.50)" d="M4.70 1.00L15.40 -32.50"/>
<path transform="translate(713.20 1185.50)" d="M13.30 -19.10C11.50 -20.50 9.50 -21.00 6.80 -21.00C3.00 -21.00 0.00 -19.50 0.00 -16.80C0.00 -15.60 0.60 -15.10 1.60 -14.50L12.60 -7.30C13.80 -6.50 14.60 -5.60 14.60 -4.10C14.60 -1.40 12.00 0.00 9.20 0.00C5.50 0.00 2.50 -0.90 0.00 -2.10"/>
<path transform="translate(737.88 1185.50)" d="M0.00 -21.80L0.00 -7.00A7.00 7.00 0 0 0 7.00 -0.00L14.30 0.00"/>
<path transform="translate(737.88 1185.50)" d="M14.30 -21.80L14.30 0.80"/>
<path transform="translate(762.25 1185.50)" d="M0.00 10.60L0.00 -21.80"/>
<path transform="translate(762.25 1185.50)" d="M0.00 -21.00L8.70 -21.00A6.00 6.00 0 0 1 14.70 -15.00L14.70 -6.00A6.00 6.00 0 0 1 8.70 -0.00L0.00 0.00"/>
<path transform="translate(787.02 1185.50)" d="M14.90 0.00L6.00 -0.00A6.00 6.00 0 0 1 0.00 -6.00L0.00 -14.00A7.00 7.00 0 0 1 7.00 -21.00L7.60 -21.00A7.00 7.00 0 0 1 14.60 -14.00L14.60 -11.00L0.00 -11.00"/>
<path transform="translate(787.02 1185.50)" d="M3.75 -30.00L12.25 -35.50"/>
<path transform="translate(811.70 1185.50)" d="M0.00 0.80L0.00 -21.00L10.80 -21.00L10.80 -17.20"/>
<path transform="translate(832.57 1185.50)" d="M0.00 0.80L0.00 -22.20"/>
<path transform="translate(832.57 1185.50)" d="M0.00 -29.30L0.00 -32.70"/>
<path transform="translate(842.65 1185.50)" d="M14.90 0.00L6.00 -0.00A6.00 6.00 0 0 1 0.00 -6.00L0.00 -14.00A7.00 7.00 0 0 1 7.00 -21.00L7.60 -21.00A7.00 7.00 0 0 1 14.60 -14.00L14.60 -11.00L0.00 -11.00"/>
<path transform="translate(867.32 1185.50)" d="M0.00 -21.80L0.00 -7.00A7.00 7.00 0 0 0 7.00 -0.00L14.30 0.00"/>
<path transform="translate(867.32 1185.50)" d="M14.30 -21.80L14.30 0.80"/>
<path transform="translate(891.70 1185.50)" d="M0.00 0.80L0.00 -21.00L10.80 -21.00L10.80 -17.20"/>
<path transform="translate(667.80 1228.20)" d="M3.30 -35.50Q-3.30 -15.65 3.30 4.40"/>
<path transform="translate(681.60 1228.20)" d="M0.00 0.80L0.00 -32.70"/>
<path transform="translate(681.60 1228.20)" d="M0.00 -31.90L8.60 -31.90A8.60 8.60 0 0 1 17.20 -23.30L17.20 -22.80A8.60 8.60 0 0 1 8.60 -14.20L0.00 -14.20"/>
<path transform="translate(709.30 1228.20)" d="M14.60 -31.90L0.00 -31.90L0.00 0.00L14.60 0.00"/>
<path transform="translate(709.30 1228.20)" d="M0.00 -17.50L11.20 -17.50"/>
<path transform="translate(734.40 1228.20)" d="M0.00 0.80L0.00 -32.70"/>
<path transform="translate(734.40 1228.20)" d="M17.30 0.80L17.30 -32.70"/>
<path transform="translate(734.40 1228.20)" d="M0.00 -17.10L17.30 -17.10"/>
<path transform="translate(762.20 1228.20)" d="M0.00 0.00L0.00 -31.90L8.60 -31.90A8.60 8.60 0 0 1 17.20 -23.30L17.20 -8.60A8.60 8.60 0 0 1 8.60 -0.00Z"/>
<path transform="translate(804.30 1228.20)" d="M0 -15.80a10.5 10.5 0 1 0 21 0a10.5 10.5 0 1 0 -21 0Z"/>
<path transform="translate(804.30 1228.20)" d="M4.70 1.00L15.40 -32.50"/>
<path transform="translate(835.32 1228.20)" d="M0.00 -31.90L7.40 -31.90A7.20 7.20 0 0 1 14.60 -24.70L14.60 -24.60A7.20 7.20 0 0 1 7.40 -17.40L3.20 -17.40"/>
<path transform="translate(835.32 1228.20)" d="M6.80 -17.40L6.80 -17.40A8.00 8.00 0 0 1 14.80 -9.40L14.80 -8.20A8.20 8.20 0 0 1 6.60 -0.00L0.00 0.00"/>
<path transform="translate(860.13 1228.20)" d="M0.20 -25.70C0.60 -29.50 3.20 -31.90 7.00 -31.90C11.20 -31.90 14.15 -29.10 14.15 -25.30C14.15 -22.70 13.20 -20.90 11.80 -18.70L0.50 -0.20L0.50 0.00L14.90 0.00"/>
<path transform="translate(884.30 1228.20)" d="M0.00 -35.50Q7.80 -15.65 0.00 4.40"/>
<path transform="translate(667.00 1268.70)" d="M0.00 10.60L0.00 -21.80"/>
<path transform="translate(667.00 1268.70)" d="M0.00 -21.00L8.70 -21.00A6.00 6.00 0 0 1 14.70 -15.00L14.70 -6.00A6.00 6.00 0 0 1 8.70 -0.00L0.00 0.00"/>
<path transform="translate(692.25 1268.70)" d="M1.30 -21.00L8.50 -21.00A5.60 5.60 0 0 1 14.10 -15.40L14.10 0.80"/>
<path transform="translate(692.25 1268.70)" d="M14.10 -10.50L4.70 -10.50A4.70 4.70 0 0 0 0.00 -5.80L0.00 -4.70A4.70 4.70 0 0 0 4.70 -0.00L14.10 0.00"/>
<path transform="translate(716.90 1268.70)" d="M0.00 0.80L0.00 -21.00L10.80 -21.00L10.80 -17.20"/>
<path transform="translate(751.80 1268.70)" d="M14.90 0.00L6.00 -0.00A6.00 6.00 0 0 1 0.00 -6.00L0.00 -14.00A7.00 7.00 0 0 1 7.00 -21.00L7.60 -21.00A7.00 7.00 0 0 1 14.60 -14.00L14.60 -11.00L0.00 -11.00"/>
<path transform="translate(776.23 1268.70)" d="M0.00 0.50L14.70 -21.50"/>
<path transform="translate(776.23 1268.70)" d="M0.00 -21.50L14.70 0.50"/>
<path transform="translate(800.77 1268.70)" d="M14.90 0.00L6.00 -0.00A6.00 6.00 0 0 1 0.00 -6.00L0.00 -14.00A7.00 7.00 0 0 1 7.00 -21.00L7.60 -21.00A7.00 7.00 0 0 1 14.60 -14.00L14.60 -11.00L0.00 -11.00"/>
<path transform="translate(825.20 1268.70)" d="M0.00 0.80L0.00 -21.80"/>
<path transform="translate(825.20 1268.70)" d="M0.00 -21.00L15.80 -21.00A5.60 5.60 0 0 1 21.40 -15.40L21.40 0.80"/>
<path transform="translate(825.20 1268.70)" d="M10.70 -21.00L10.70 0.80"/>
<path transform="translate(856.43 1268.70)" d="M0.00 10.60L0.00 -21.80"/>
<path transform="translate(856.43 1268.70)" d="M0.00 -21.00L8.70 -21.00A6.00 6.00 0 0 1 14.70 -15.00L14.70 -6.00A6.00 6.00 0 0 1 8.70 -0.00L0.00 0.00"/>
<path transform="translate(880.97 1268.70)" d="M0.00 -32.70L0.00 -3.70A3.70 3.70 0 0 0 3.70 -0.00L4.00 0.00"/>
<path transform="translate(894.60 1268.70)" d="M14.90 0.00L6.00 -0.00A6.00 6.00 0 0 1 0.00 -6.00L0.00 -14.00A7.00 7.00 0 0 1 7.00 -21.00L7.60 -21.00A7.00 7.00 0 0 1 14.60 -14.00L14.60 -11.00L0.00 -11.00"/>
</g>
</svg></body></html>
